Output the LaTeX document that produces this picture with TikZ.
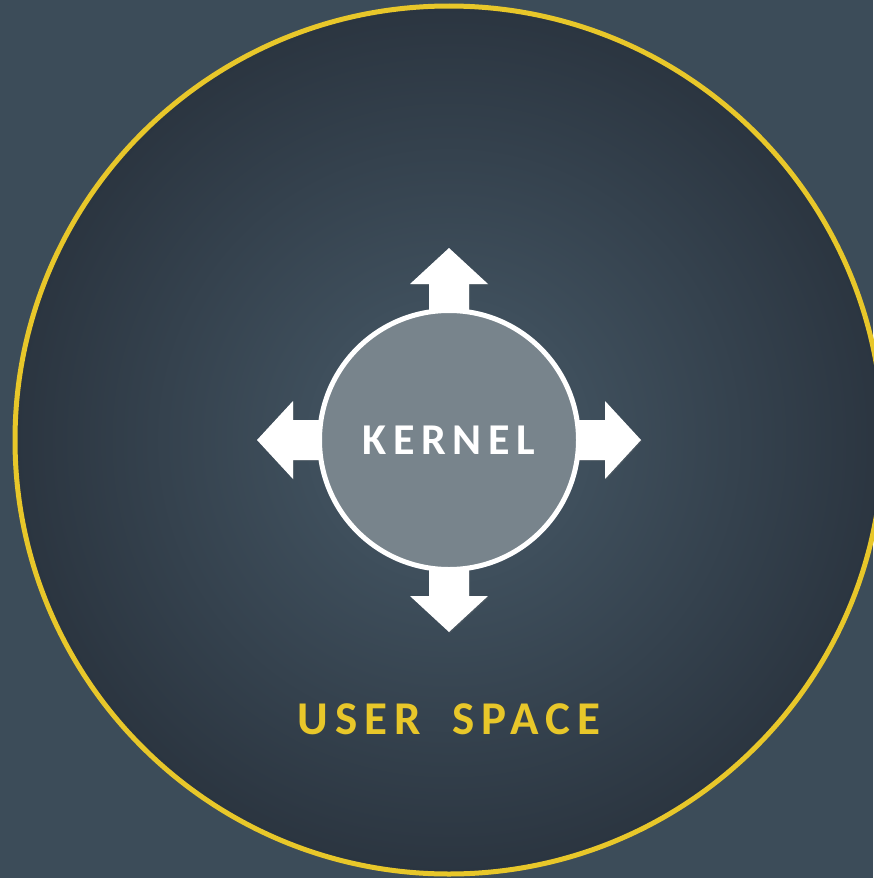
\documentclass[tikz,border=0pt]{standalone}
\usepackage{fontspec}
\setmainfont{Carlito}
\newfontfamily\kernfont[LetterSpace=15]{Carlito}
\usetikzlibrary{shadows}
\definecolor{bgcol}{HTML}{3C4C59}
\definecolor{innercol}{HTML}{485B69}
\definecolor{outercol}{HTML}{2B3540}
\definecolor{ringcol}{HTML}{E8C72A}
\definecolor{kernelcol}{HTML}{78848C}
\tikzset{
  arrowshape/.style={fill=white, drop shadow={opacity=0.2, shadow xshift=1pt, shadow yshift=-1pt}},
  kernelnode/.style={circle, minimum size=259pt, inner sep=0pt, fill=kernelcol, draw=white, line width=5pt,
    text=white, font=\kernfont\bfseries\fontsize{44}{50}\selectfont,
    drop shadow={opacity=0.2, shadow xshift=1pt, shadow yshift=-1pt}},
  usernode/.style={circle, minimum size=868pt, inner sep=0pt, shading=radial, inner color=innercol,
    outer color=outercol, draw=ringcol, line width=5pt},
  labelnode/.style={text=ringcol, font=\kernfont\bfseries\fontsize{47}{52}\selectfont, inner sep=0pt}
}
\begin{document}
\begin{tikzpicture}[x=1pt,y=-1pt]
\fill[bgcol] (0,0) rectangle (873,878);
\useasboundingbox (0,0) rectangle (873,878);
\node[usernode] (userspace) at (449,440) {};
\coordinate (k) at (449,440);
\foreach \a in {0,90,180,270}{
  \fill[arrowshape, shift={(k)}, rotate=\a]
    (0,-20) -- (156,-20) -- (156,-39) -- (192,0) -- (156,39) -- (156,20) -- (0,20) -- cycle;
}
\node[kernelnode] (kernel) at (k) {KERNEL};
\node[labelnode, anchor=base] (userlabel) at (449,734) {USER \hspace{13pt}SPACE};
\end{tikzpicture}
\end{document}
